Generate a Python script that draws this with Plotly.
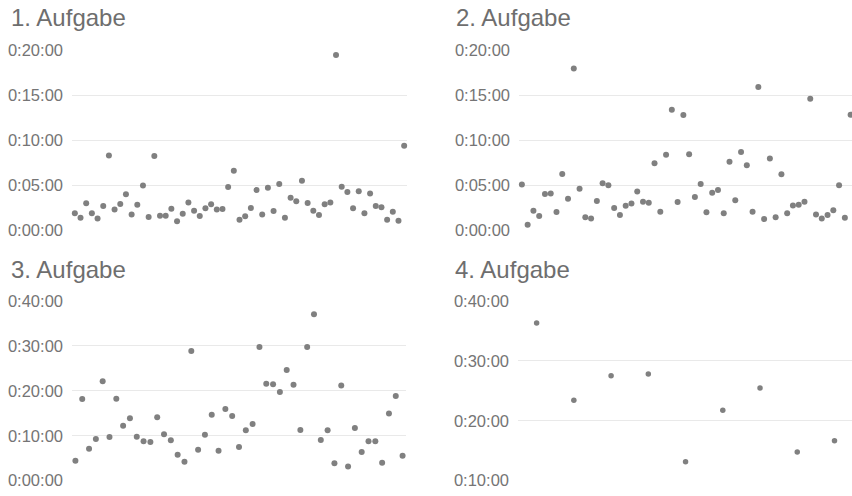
import plotly.graph_objects as go

# ---- data (durations in seconds) ----
titles = ["1. Aufgabe", "2. Aufgabe", "3. Aufgabe", "4. Aufgabe"]

aufgabe1 = [111, 82, 178, 111, 76, 160, 496, 136, 173, 238, 104, 169, 296, 86, 493,
            95, 95, 142, 58, 109, 184, 129, 94, 145, 171, 136, 140, 287, 395, 69,
            91, 146, 266, 104, 282, 127, 307, 82, 215, 191, 329, 180, 129, 100, 171,
            184, 1166, 289, 253, 145, 258, 111, 244, 160, 151, 69, 122, 62, 562]

aufgabe2 = [304, 35, 129, 94, 240, 244, 120, 373, 209, 1076, 275, 85, 76, 193, 311,
            298, 146, 100, 162, 176, 256, 189, 182, 445, 122, 502, 802, 187, 767, 505,
            220, 307, 118, 249, 266, 111, 455, 198, 520, 431, 122, 953, 73, 476, 85,
            371, 111, 164, 169, 189, 875, 104, 76, 100, 131, 298, 82, 769]

aufgabe3 = [267, 1091, 427, 557, 1327, 583, 1096, 734, 833, 588, 526, 517, 846, 619, 539,
            347, 254, 1732, 414, 614, 881, 401, 958, 864, 450, 673, 757, 1786, 1296, 1287,
            1184, 1478, 1282, 677, 1786, 2222, 543, 673, 232, 1273, 191, 704, 383, 526, 526,
            241, 899, 1131, 334]

aufgabe4 = [2180, 1405, 1652, 1669, 791, 1305, 1529, 887, 1001]

ticks_small = [0, 300, 600, 900, 1200]
ticks_small_labels = ["0:00:00", "0:05:00", "0:10:00", "0:15:00", "0:20:00"]
ticks_large = [0, 600, 1200, 1800, 2400]
ticks_large_labels = ["0:00:00", "0:10:00", "0:20:00", "0:30:00", "0:40:00"]
ticks_p4 = [600, 1200, 1800, 2400]
ticks_p4_labels = ["0:10:00", "0:20:00", "0:30:00", "0:40:00"]

series = [aufgabe1, aufgabe2, aufgabe3, aufgabe4]

W, H = 852, 496
DOT = "#808080"
TXT = "#757575"
GRID = "#e9e9e9"
FONT = "Liberation Sans, Arial, sans-serif"

# panel geometry in pixels: (x0, x1, ytop, ybottom)
panels = [(72, 407, 50, 230), (519, 852, 50, 230),
          (72, 406, 301, 480.7), (518, 852, 301, 480.7)]
yranges = [[0, 1200], [0, 1200], [0, 2400], [600, 2400]]
yticks = [(ticks_small, ticks_small_labels), (ticks_small, ticks_small_labels),
          (ticks_large, ticks_large_labels), (ticks_p4, ticks_p4_labels)]
# x ranges: category slots; panels on the right run past the image edge
xranges = [[-0.5, len(aufgabe1) - 0.5], [-0.5, 57.24],
           [-0.5, len(aufgabe3) - 0.5], [-0.5, 8.47]]
sizes = [6, 6, 6, 5.5]

fig = go.Figure()
layout = dict(width=W, height=H, margin=dict(l=0, r=0, t=0, b=0, autoexpand=False),
              paper_bgcolor="white", plot_bgcolor="white", showlegend=False,
              font=dict(family=FONT, color=TXT))

annotations = []
title_pos = [(9, 18), (454, 18), (9, 269), (453, 269)]
for i, vals in enumerate(series):
    n = i + 1
    xa = "x" if n == 1 else f"x{n}"
    ya = "y" if n == 1 else f"y{n}"
    fig.add_trace(go.Scatter(x=list(range(len(vals))), y=vals, mode="markers",
                             marker=dict(color=DOT, size=sizes[i]),
                             xaxis=xa, yaxis=ya, cliponaxis=False,
                             hoverinfo="skip"))
    x0, x1, yt, yb = panels[i]
    layout["xaxis" if n == 1 else f"xaxis{n}"] = dict(
        domain=[x0 / W, min(x1 / W, 1.0)], range=xranges[i],
        showgrid=False, zeroline=False, showticklabels=False, showline=False,
        anchor=ya, fixedrange=True)
    tv, tt = yticks[i]
    layout["yaxis" if n == 1 else f"yaxis{n}"] = dict(
        domain=[1 - yb / H, 1 - yt / H], range=yranges[i],
        tickvals=tv, ticktext=tt, showgrid=True, gridcolor=GRID, gridwidth=1,
        zeroline=False, showline=False, ticks="", ticklabelstandoff=8,
        tickfont=dict(size=16.5, color=TXT, family=FONT),
        anchor=xa, fixedrange=True)
    tx, ty = title_pos[i]
    annotations.append(dict(text=titles[i], xref="paper", yref="paper",
                            x=tx / W, y=1 - ty / H, xanchor="left", yanchor="middle",
                            showarrow=False, font=dict(size=24, color="#6e6e6e", family=FONT)))

layout["annotations"] = annotations
fig.update_layout(**layout)
fig.write_html("out.html", config={"displayModeBar": False},
               post_script="document.body.style.margin='0';document.body.style.padding='0';"
                           "document.body.style.overflow='hidden';"
                           "document.documentElement.style.overflow='hidden';")
